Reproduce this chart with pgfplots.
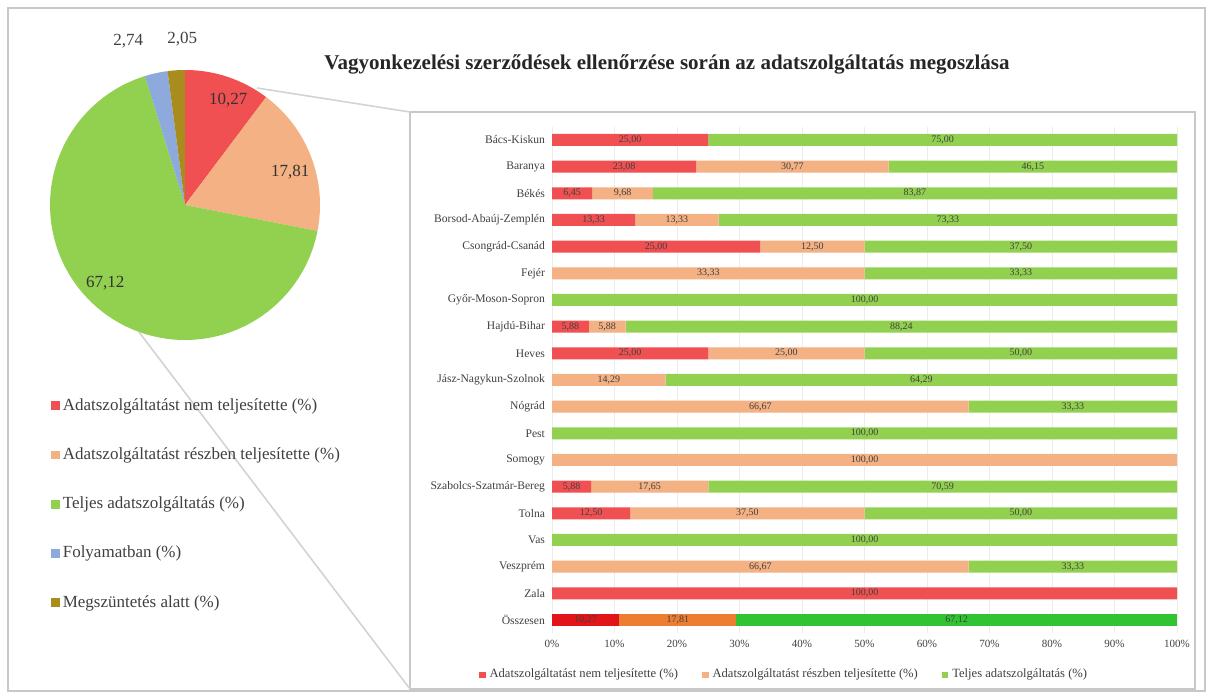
\documentclass[border=0pt]{standalone}
\usepackage{pgfplots}
\pgfplotsset{compat=1.18}
\usepackage{pgfplotstable}
\usepackage{fontspec}
\setmainfont{Liberation Serif}
\definecolor{cRed}{RGB}{240,80,82}
\definecolor{cOra}{RGB}{244,177,131}
\definecolor{cGre}{RGB}{146,208,80}
\definecolor{tRed}{RGB}{225,20,25}
\definecolor{tOra}{RGB}{237,125,49}
\definecolor{tGre}{RGB}{50,195,50}
\definecolor{pBlu}{RGB}{142,169,219}
\definecolor{pOli}{RGB}{168,140,30}
\definecolor{frameg}{RGB}{200,200,200}
\definecolor{txt}{RGB}{64,64,64}
\pgfplotsset{/pgf/number format/assume math mode=true}

\pgfplotstableread{
idx a b c la lb lc
0 25.00 0 75.00 25.00 0 75.00
1 23.08 30.77 46.15 23.08 30.77 46.15
2 6.45 9.68 83.87 6.45 9.68 83.87
3 13.33 13.33 73.34 13.33 13.33 73.33
4 33.33 16.67 50.00 25.00 12.50 37.50
5 0 50.00 50.00 0 33.33 33.33
6 0 0 100 0 0 100
7 5.88 5.88 88.24 5.88 5.88 88.24
8 25.00 25.00 50.00 25.00 25.00 50.00
9 0 18.18 81.82 0 14.29 64.29
10 0 66.67 33.33 0 66.67 33.33
11 0 0 100 0 0 100
12 0 100 0 0 100 0
13 6.25 18.75 75.00 5.88 17.65 70.59
14 12.50 37.50 50.00 12.50 37.50 50.00
15 0 0 100 0 0 100
16 0 66.67 33.33 0 66.67 33.33
17 100 0 0 100 0 0
}\bardata
\pgfplotstableread{
idx a b c la lb lc
18 10.79 18.71 70.50 10.27 17.81 67.12
}\totdata

\newcommand\lbl{\pgfmathfloatifflags{\pgfplotspointmeta}{0}{}{\pgfmathprintnumber[fixed,fixed zerofill,precision=2,use comma]{\pgfplotspointmeta}}}

\pgfplotsset{
  barbase/.style={at={(276pt,-63.33pt)}, anchor=north west, scale only axis,
    width=312.5pt, height=253.33pt, xmin=0, xmax=100, ymin=-0.5, ymax=18.5,
    y dir=reverse, enlargelimits=false},
  lblstyle/.style={draw=none, nodes near coords={\lbl}, point meta=explicit,
    every node near coord/.append style={anchor=center, inner sep=0pt,
      font=\fontsize{5}{6}\selectfont, text=txt}},
}

\begin{document}
\begin{tikzpicture}[x=0.5pt,y=-0.5pt]
\fill[white] (0,0) rectangle (1213,699);
\draw[frameg, line width=0.6pt] (8,8) rectangle (1205,691);
\draw[frameg, line width=0.6pt] (410,112) rectangle (1195,689);
\node[font=\bfseries\fontsize{10.5}{12}\selectfont, text=black!85] at (667,64)
  {Vagyonkezelési szerződések ellenőrzése során az adatszolgáltatás megoszlása};
% connector lines
\draw[frameg!80, line width=0.8pt] (257,88) -- (410,112);
\draw[frameg!80, line width=0.8pt] (139,332) -- (410,689);

% ---------- pie ----------
\pgfmathsetmacro\tA{90-3.6*10.27}
\pgfmathsetmacro\tB{\tA-3.6*17.81}
\pgfmathsetmacro\tC{\tB-3.6*67.12}
\pgfmathsetmacro\tD{\tC-3.6*2.74}
\pgfmathsetmacro\tE{\tD-3.6*2.05}
\begin{axis}[at={(92.5pt,-102.5pt)}, anchor=center, scale only axis,
  width=135pt, height=135pt, xmin=-1, xmax=1, ymin=-1, ymax=1,
  hide axis, clip=false,
  legend image code/.code={\fill[#1, draw=none] (0pt,-2.2pt) rectangle (4.4pt,2.2pt);},
  legend style={at={(-0.02,-0.185)}, anchor=north west, draw=none, fill=none,
    font=\fontsize{8.5}{10}\selectfont, text=txt, row sep=13.2pt,
    nodes={inner xsep=1.5pt}},
  legend cell align=left]
\addplot[forget plot, fill=cRed, draw=none, domain=\tA:90, samples=40, variable=\t]
  ({cos(\t)},{sin(\t)}) -- (axis cs:0,0) -- cycle;
\addplot[forget plot, fill=cOra, draw=none, domain=\tB:\tA, samples=50, variable=\t]
  ({cos(\t)},{sin(\t)}) -- (axis cs:0,0) -- cycle;
\addplot[forget plot, fill=cGre, draw=none, domain=\tC:\tB, samples=120, variable=\t]
  ({cos(\t)},{sin(\t)}) -- (axis cs:0,0) -- cycle;
\addplot[forget plot, fill=pBlu, draw=none, domain=\tD:\tC, samples=10, variable=\t]
  ({cos(\t)},{sin(\t)}) -- (axis cs:0,0) -- cycle;
\addplot[forget plot, fill=pOli, draw=none, domain=\tE:\tD, samples=10, variable=\t]
  ({cos(\t)},{sin(\t)}) -- (axis cs:0,0) -- cycle;
\addplot[forget plot, draw=none, nodes near coords, point meta=explicit symbolic,
  every node near coord/.append style={anchor=center, font=\fontsize{8.5}{10}\selectfont, text=black!80}]
  coordinates {(0.32,0.78)[10,27] (0.78,0.24)[17,81] (-0.59,-0.58)[67,12]};
\addplot[forget plot, draw=none, nodes near coords, point meta=explicit symbolic,
  every node near coord/.append style={anchor=center, font=\fontsize{8.5}{10}\selectfont, text=txt}]
  coordinates {(-0.42,1.21)[2,74] (-0.02,1.23)[2,05]};
\addlegendimage{fill=cRed}\addlegendentry{Adatszolgáltatást nem teljesítette (\%)}
\addlegendimage{fill=cOra}\addlegendentry{Adatszolgáltatást részben teljesítette (\%)}
\addlegendimage{fill=cGre}\addlegendentry{Teljes adatszolgáltatás (\%)}
\addlegendimage{fill=pBlu}\addlegendentry{Folyamatban (\%)}
\addlegendimage{fill=pOli}\addlegendentry{Megszüntetés alatt (\%)}
\end{axis}

% ---------- bars ----------
\begin{axis}[barbase, xbar stacked, bar width=6pt,
  axis line style={draw=none}, tick style={draw=none},
  xmajorgrids, grid style={draw=gray!15, line width=0.4pt},
  xtick={0,10,...,100}, xticklabel={\pgfmathprintnumber{\tick}\%},
  xticklabel style={font=\fontsize{5.5}{6}\selectfont, text=txt},
  ytick={0,...,18},
  yticklabels={Bács-Kiskun,Baranya,Békés,Borsod-Abaúj-Zemplén,Csongrád-Csanád,Fejér,Győr-Moson-Sopron,Hajdú-Bihar,Heves,Jász-Nagykun-Szolnok,Nógrád,Pest,Somogy,Szabolcs-Szatmár-Bereg,Tolna,Vas,Veszprém,Zala,Összesen},
  yticklabel style={font=\fontsize{5.8}{7}\selectfont, text=txt},
  legend columns=3,
  legend image code/.code={\fill[#1, draw=none] (0pt,-1.6pt) rectangle (3.2pt,1.6pt);},
  legend style={at={(0.373,-0.082)}, anchor=center, draw=none, fill=none,
    font=\fontsize{6.3}{7}\selectfont, text=txt,
    /tikz/every even column/.append style={column sep=10pt}}]
\addplot[fill=cRed, draw=none] table[x=a, y=idx]{\bardata};
\addlegendentry{Adatszolgáltatást nem teljesítette (\%)}
\addplot[fill=cOra, draw=none] table[x=b, y=idx]{\bardata};
\addlegendentry{Adatszolgáltatást részben teljesítette (\%)}
\addplot[fill=cGre, draw=none] table[x=c, y=idx]{\bardata};
\addlegendentry{Teljes adatszolgáltatás (\%)}
\end{axis}

\begin{axis}[barbase, xbar stacked, bar width=6pt, hide axis]
\addplot[fill=tRed, draw=none] table[x=a, y=idx]{\totdata};
\addplot[fill=tOra, draw=none] table[x=b, y=idx]{\totdata};
\addplot[fill=tGre, draw=none] table[x=c, y=idx]{\totdata};
\end{axis}

\begin{axis}[barbase, hide axis]
\addplot[lblstyle] table[x expr=\thisrow{a}/2, y=idx, meta=la]{\bardata};
\addplot[lblstyle] table[x expr=\thisrow{a}+\thisrow{b}/2, y=idx, meta=lb]{\bardata};
\addplot[lblstyle] table[x expr=\thisrow{a}+\thisrow{b}+\thisrow{c}/2, y=idx, meta=lc]{\bardata};
\addplot[lblstyle] table[x expr=\thisrow{a}/2, y=idx, meta=la]{\totdata};
\addplot[lblstyle] table[x expr=\thisrow{a}+\thisrow{b}/2, y=idx, meta=lb]{\totdata};
\addplot[lblstyle] table[x expr=\thisrow{a}+\thisrow{b}+\thisrow{c}/2, y=idx, meta=lc]{\totdata};
\end{axis}

\pgfresetboundingbox
\useasboundingbox (0,0) rectangle (1213,699);
\end{tikzpicture}
\end{document}
